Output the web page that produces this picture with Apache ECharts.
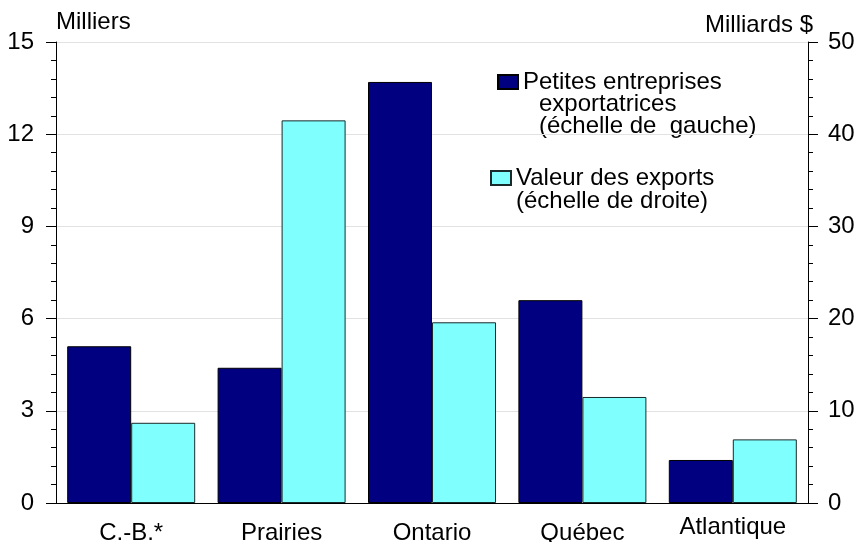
<!DOCTYPE html>
<html>
<head>
<meta charset="utf-8">
<script src="https://cdn.jsdelivr.net/npm/echarts@6/dist/echarts.min.js"></script>
<style>
  html, body { margin: 0; padding: 0; background: #fff; }
  #chart { width: 860px; height: 542px; }
</style>
</head>
<body>
<div id="chart"></div>
<script>
var regions = ["C.-B.*", "Prairies", "Ontario", "Québec", "Atlantique"];
var petitesEntreprises = [5.1, 4.4, 13.7, 6.6, 1.4];   // milliers, échelle de gauche
var valeurExports = [8.7, 41.5, 19.6, 11.5, 6.9];      // milliards $, échelle de droite
var leftTicks = [0, 3, 6, 9, 12, 15];
var rightTicks = [0, 10, 20, 30, 40, 50];

var font = "Liberation Sans, Arial, sans-serif";
var fs = 24;

var categoryData = regions.map(function (r) {
   // Atlantique sits a little higher in the original
   if (r === "Atlantique") return { value: r, textStyle: { padding: [0, 0, 0, 0] } };
   return r;
});

var option = {
   animation: false,
   backgroundColor: "#fff",
   textStyle: { fontFamily: font },
   grid: { left: 56, right: 52, top: 42, bottom: 39, outerBoundsMode: "none" },
   legend: [
      {
         left: 492, top: 65,
         icon: "rect",
         itemWidth: 20, itemHeight: 14, itemGap: 0,
         data: ["Petites entreprises exportatrices"],
         formatter: function () { return "Petites entreprises"; },
         textStyle: { fontSize: fs, color: "#000", padding: [0, 0, 0, 0] },
         selectedMode: false
      },
      {
         left: 485, top: 161,
         icon: "rect",
         itemWidth: 20, itemHeight: 14, itemGap: 0,
         data: ["Valeur des exports"],
         textStyle: { fontSize: fs, color: "#000", padding: [0, 0, 0, 0] },
         selectedMode: false
      }
   ],
   graphic: [
      { type: "text", left: 539, top: 92, style: { text: "exportatrices", font: fs + "px " + font, fill: "#000" } },
      { type: "text", left: 539, top: 114, style: { text: "(échelle de  gauche)", font: fs + "px " + font, fill: "#000" } },
      { type: "text", left: 516, top: 189, style: { text: "(échelle de droite)", font: fs + "px " + font, fill: "#000" } }
   ],
   xAxis: {
      type: "category",
      data: categoryData,
      axisLine: { lineStyle: { color: "#000", width: 1 } },
      axisTick: { show: false },
      axisLabel: { fontSize: fs, color: "#000", margin: 12, padding: [6, 0, 0, 0] }
   },
   yAxis: [
      {
         type: "value",
         min: leftTicks[0], max: leftTicks[leftTicks.length - 1], interval: 3,
         name: "Milliers",
         nameGap: 20,
         nameTextStyle: { fontSize: fs, color: "#000", align: "left", verticalAlign: "middle" },
         axisLine: { show: true, lineStyle: { color: "#000" } },
         axisTick: { show: true, length: 10, lineStyle: { color: "#000" } },
         minorTick: { show: true, splitNumber: 5, length: 5, lineStyle: { color: "#000" } },
         axisLabel: { fontSize: fs, color: "#000", margin: 22 },
         splitLine: { show: true, lineStyle: { color: "#e2e2e2", width: 1 } }
      },
      {
         type: "value",
         min: rightTicks[0], max: rightTicks[rightTicks.length - 1], interval: 10,
         name: "Milliards $",
         nameGap: 17,
         nameTextStyle: { fontSize: fs, color: "#000", align: "right", verticalAlign: "middle", padding: [0, -5, 0, 0] },
         axisLine: { show: true, lineStyle: { color: "#000" } },
         axisTick: { show: true, length: 10, lineStyle: { color: "#000" } },
         minorTick: { show: true, splitNumber: 5, length: 5, lineStyle: { color: "#000" } },
         axisLabel: { fontSize: fs, color: "#000", margin: 20 },
         splitLine: { show: false }
      }
   ],
   series: [
      {
         name: "Petites entreprises exportatrices",
         type: "bar",
         yAxisIndex: 0,
         data: petitesEntreprises,
         barWidth: 64,
         barGap: "0%",
         itemStyle: { color: "#000080", borderColor: "#000", borderWidth: 1 }
      },
      {
         name: "Valeur des exports",
         type: "bar",
         yAxisIndex: 1,
         data: valeurExports,
         barWidth: 64,
         barGap: "0%",
         itemStyle: { color: "#80ffff", borderColor: "#1a2a2a", borderWidth: 1 }
      }
   ]
};

var myChart = echarts.init(document.getElementById("chart"));
myChart.setOption(option);
</script>
</body>
</html>
